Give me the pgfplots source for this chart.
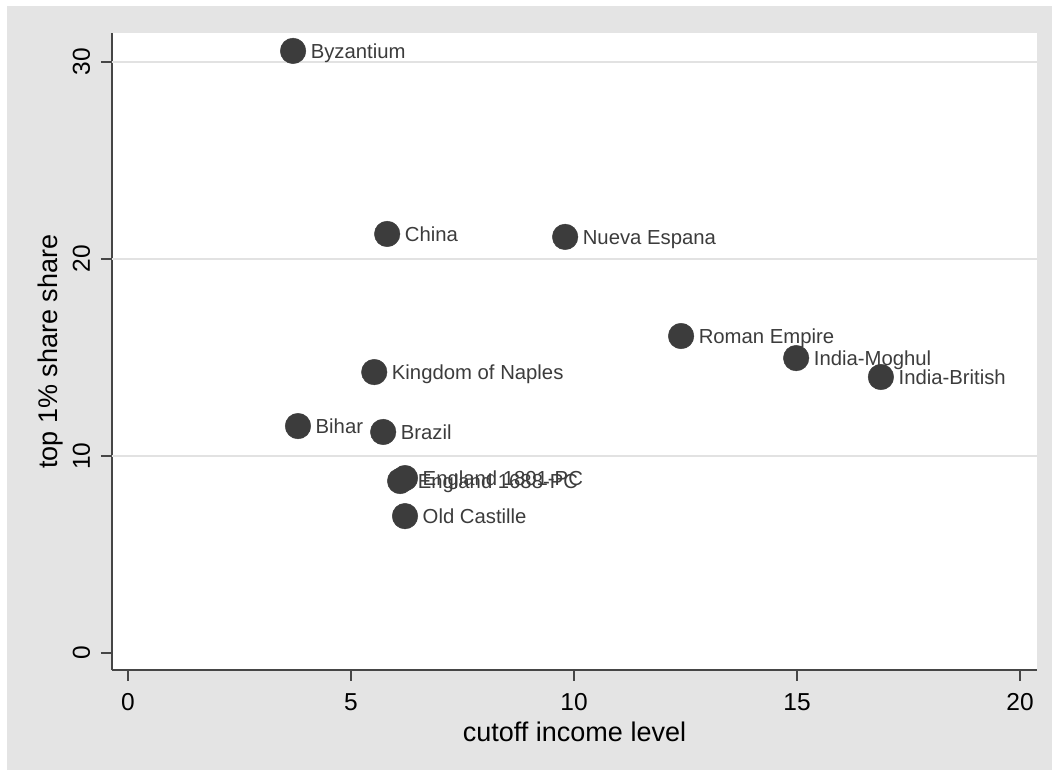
\documentclass[border=0pt]{standalone}
\usepackage{pgfplots}
\pgfplotsset{compat=1.18}
\usepackage{pgfplotstable}
\usepackage{fontspec}
\setmainfont{Liberation Sans}
\definecolor{bg}{RGB}{228,228,228}
\definecolor{mk}{RGB}{60,60,60}
\definecolor{ax}{RGB}{70,70,70}
\definecolor{gr}{RGB}{226,226,226}
\pgfplotstableread[col sep=comma]{
x,y,label
3.70,30.56,Byzantium
5.81,21.27,China
9.80,21.12,Nueva Espana
12.40,16.09,Roman Empire
14.98,14.97,India-Moghul
16.88,14.01,India-British
5.52,14.26,Kingdom of Naples
3.81,11.52,Bihar
5.72,11.22,Brazil
6.21,8.88,England 1801-PC
6.10,8.73,England 1688-PC
6.21,6.95,Old Castille
}\data
\begin{document}
\begin{tikzpicture}[x=1pt,y=1pt]
\fill[white] (0,0) rectangle (1052,770);
\fill[bg] (7,0) rectangle (1052,764);
\begin{axis}[
  at={(112pt,100pt)}, anchor=south west,
  scale only axis, width=925pt, height=637pt,
  xmin=-0.36, xmax=20.38, ymin=-0.86, ymax=31.47,
  axis background/.style={fill=white},
  axis x line*=bottom, axis y line*=left,
  axis line style={ax, line width=1.2pt, -},
  xtick={0,5,10,15,20}, ytick={0,10,20,30},
  tick align=outside, major tick length=11pt,
  tick style={ax, line width=1.2pt},
  /pgf/number format/assume math mode=true,
  ticklabel style={font=\fontsize{24.5}{28}\selectfont, text=black},
  xticklabel style={anchor=north, inner sep=0pt, yshift=-12pt},
  yticklabel style={rotate=90, anchor=base, inner sep=0pt, yshift=11pt},
  extra y ticks={10,20,30}, extra y tick labels={},
  extra y tick style={ymajorgrids=true, major tick length=0pt,
     major grid style={gr, line width=2.2pt}},
  xlabel={cutoff income level},
  ylabel={top 1\% share share},
  label style={font=\fontsize{27}{30}\selectfont, text=black},
  xlabel style={at={(axis description cs:0.5,0)}, anchor=north, yshift=-52pt, inner sep=0pt},
  ylabel style={at={(axis description cs:0,0.5)}, anchor=center, yshift=61pt},
  clip=false,
]
\addplot[only marks, mark=*, mark size=12.8pt, mark options={fill=mk, draw=mk},
  nodes near coords, point meta=explicit symbolic,
  nodes near coords align={anchor=base west},
  every node near coord/.append style={anchor=base west, inner sep=0pt, xshift=17.5pt, yshift=-7.3pt,
     font=\fontsize{20.3}{24}\selectfont, text=mk}]
  table[x=x, y=y, meta=label] {\data};
\end{axis}
\pgfresetboundingbox
\path[use as bounding box] (0,0) rectangle (1052,770);
\end{tikzpicture}
\end{document}
